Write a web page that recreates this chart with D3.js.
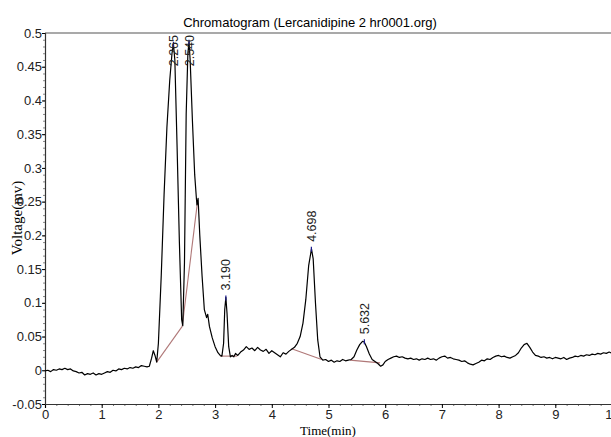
<!DOCTYPE html>
<html><head><meta charset="utf-8">
<script src="https://cdn.jsdelivr.net/npm/d3@7"></script>
<style>body{margin:0;background:#fff;}svg{display:block;}</style>
</head><body><svg id="c" width="611" height="437"></svg>
<script>
const titleText = "Chromatogram (Lercanidipine 2 hr0001.org)";
const xLabel = "Time(min)";
const yLabel = "Voltage(mv)";
const xTicks = [0,1,2,3,4,5,6,7,8,9,10];
const yTicks = [-0.05,0,0.05,0.1,0.15,0.2,0.25,0.3,0.35,0.4,0.45,0.5];

const time = [0.00,0.05,0.10,0.15,0.20,0.25,0.30,0.35,0.40,0.45,0.50,0.55,0.60,0.65,0.70,0.75,0.80,0.85,0.90,0.95,
1.00,1.05,1.10,1.15,1.20,1.25,1.30,1.35,1.40,1.45,1.50,1.55,1.60,1.65,1.70,1.75,1.80,1.84,1.88,1.91,1.94,1.97,
2.00,2.05,2.10,2.15,2.20,2.24,2.265,2.29,2.33,2.37,2.41,2.43,2.46,2.49,2.52,2.54,2.56,2.60,2.64,2.67,2.68,2.70,
2.73,2.77,2.81,2.85,2.87,2.90,2.95,3.00,3.05,3.09,3.12,3.15,3.17,3.19,3.21,3.24,3.27,3.30,3.33,3.36,3.40,3.45,
3.50,3.55,3.60,3.65,3.70,3.75,3.80,3.85,3.90,3.95,4.00,4.05,4.10,4.15,4.20,4.25,4.30,4.35,4.40,4.45,4.50,4.55,
4.60,4.65,4.70,4.73,4.77,4.81,4.85,4.90,4.95,5.00,5.05,5.10,5.15,5.20,5.25,5.30,5.35,5.40,5.45,5.50,5.55,5.60,
5.63,5.67,5.72,5.77,5.82,5.87,5.92,5.96,6.00,6.05,6.10,6.15,6.20,6.25,6.30,6.35,6.40,6.45,6.50,6.55,6.60,6.65,
6.70,6.75,6.80,6.85,6.90,6.95,7.00,7.05,7.10,7.15,7.20,7.25,7.30,7.35,7.40,7.45,7.50,7.55,7.60,7.65,7.70,7.75,
7.80,7.85,7.90,7.95,8.00,8.05,8.10,8.15,8.20,8.25,8.30,8.35,8.40,8.45,8.50,8.55,8.60,8.65,8.70,8.75,8.80,8.85,
8.90,8.95,9.00,9.05,9.10,9.15,9.20,9.25,9.30,9.35,9.40,9.45,9.50,9.55,9.60,9.65,9.70,9.75,9.80,9.85,9.90,9.95,10.00];
const voltage = [-0.001,0.000,-0.002,0.001,0.000,0.002,0.001,0.003,0.001,0.002,-0.001,-0.002,-0.004,-0.003,-0.007,-0.005,-0.006,-0.004,-0.007,-0.005,
-0.006,-0.004,-0.002,-0.003,0.000,-0.001,0.002,0.001,0.003,0.002,0.004,0.003,0.005,0.004,0.007,0.006,0.005,0.006,0.018,0.029,0.022,0.012,
0.040,0.140,0.260,0.360,0.430,0.470,0.484,0.460,0.330,0.190,0.075,0.066,0.160,0.380,0.470,0.487,0.460,0.370,0.290,0.255,0.245,0.255,
0.200,0.140,0.090,0.078,0.083,0.065,0.048,0.035,0.026,0.022,0.021,0.040,0.090,0.108,0.085,0.035,0.020,0.022,0.020,0.025,0.022,0.027,
0.030,0.035,0.031,0.033,0.029,0.034,0.030,0.028,0.031,0.025,0.029,0.026,0.023,0.020,0.026,0.024,0.028,0.031,0.034,0.040,0.050,0.070,
0.105,0.155,0.180,0.165,0.100,0.045,0.020,0.015,0.016,0.013,0.015,0.012,0.014,0.013,0.016,0.014,0.015,0.016,0.020,0.030,0.038,0.043,
0.042,0.035,0.024,0.016,0.013,0.010,0.006,0.008,0.013,0.016,0.018,0.020,0.021,0.019,0.020,0.018,0.017,0.018,0.016,0.017,0.015,0.017,
0.016,0.018,0.016,0.017,0.015,0.018,0.020,0.021,0.018,0.019,0.017,0.016,0.015,0.013,0.014,0.011,0.009,0.008,0.010,0.012,0.015,0.014,
0.017,0.016,0.019,0.021,0.022,0.020,0.021,0.019,0.018,0.020,0.022,0.026,0.033,0.038,0.040,0.034,0.027,0.022,0.021,0.019,0.020,0.018,
0.019,0.017,0.019,0.018,0.017,0.019,0.016,0.018,0.019,0.021,0.020,0.022,0.021,0.023,0.022,0.024,0.023,0.025,0.024,0.026,0.025,0.027,0.025];

const peakTimes = [2.265, 2.540, 3.190, 4.698, 5.632];
const peakHeights = [0.484, 0.487, 0.108, 0.180, 0.043];
const peakLabels = ["2.265", "2.540", "3.190", "4.698", "5.632"];

const baseStartT = [1.97, 2.42, 3.09, 4.35, 5.38];
const baseStartV = [0.012, 0.065, 0.021, 0.032, 0.015];
const baseEndT = [2.42, 2.69, 3.39, 4.88, 5.91];
const baseEndV = [0.065, 0.250, 0.021, 0.016, 0.011];

const svg = d3.select("#c");
const L = 45, R = 612, T = 33, B = 404;
const x = d3.scaleLinear().domain([0,10]).range([L,R]);
const y = d3.scaleLinear().domain([-0.05,0.5]).range([B,T]);

// title
svg.append("text").attr("x",310).attr("y",27).attr("text-anchor","middle")
  .attr("font-family","Liberation Sans, Arial, sans-serif").attr("font-size",13).text(titleText);

// top border
svg.append("line").attr("x1",L).attr("x2",R).attr("y1",T).attr("y2",T).attr("stroke","#555").attr("stroke-width",1.2);

// minor ticks
const gx = svg.append("g").attr("transform",`translate(0,${B})`);
gx.call(d3.axisBottom(x).tickValues(d3.range(0,10.01,0.2)).tickSize(2).tickFormat(""))
  .call(g=>g.select(".domain").remove()).selectAll("line").attr("stroke","#777");
const gxM = svg.append("g").attr("transform",`translate(0,${B})`);
gxM.call(d3.axisBottom(x).tickValues(xTicks).tickSize(4).tickPadding(2).tickFormat(d3.format("d")));
gxM.select(".domain").attr("stroke","#333").attr("stroke-width",1.2);
gxM.selectAll("text").attr("font-family","Liberation Sans, Arial, sans-serif").attr("font-size",13).attr("fill","#222");

const gy = svg.append("g").attr("transform",`translate(${L},0)`);
gy.call(d3.axisLeft(y).tickValues(d3.range(-0.05,0.5001,0.01)).tickSize(2).tickFormat(""))
  .call(g=>g.select(".domain").remove()).selectAll("line").attr("stroke","#888");
const gyM = svg.append("g").attr("transform",`translate(${L},0)`);
gyM.call(d3.axisLeft(y).tickValues(yTicks).tickSize(3).tickFormat(d=>String(+d.toFixed(2))));
gyM.select(".domain").attr("stroke","#333").attr("stroke-width",1.2);
gyM.selectAll("text").attr("font-family","Liberation Sans, Arial, sans-serif").attr("font-size",13).attr("fill","#222").attr("x",-3);

// axis titles
svg.append("text").attr("x",328).attr("y",435).attr("text-anchor","middle")
  .attr("font-family","Liberation Serif, Times New Roman, serif").attr("font-size",13).text(xLabel);
svg.append("text").attr("transform","translate(22,218) rotate(-90)").attr("text-anchor","middle")
  .attr("font-family","Liberation Serif, Times New Roman, serif").attr("font-size",15).text(yLabel);

// baselines
const clip = svg.append("clipPath").attr("id","pc").append("rect").attr("x",L).attr("y",T).attr("width",R-L).attr("height",B-T);
const plot = svg.append("g").attr("clip-path","url(#pc)");
plot.selectAll("line.base").data(baseStartT).join("line").attr("class","base")
  .attr("x1",(d,i)=>x(baseStartT[i])).attr("y1",(d,i)=>y(baseStartV[i]))
  .attr("x2",(d,i)=>x(baseEndT[i])).attr("y2",(d,i)=>y(baseEndV[i]))
  .attr("stroke","#b07878").attr("stroke-width",1.1);

// trace
const pts = time.map((t,i)=>[t,voltage[i]]);
plot.append("path").datum(pts).attr("fill","none").attr("stroke","#000").attr("stroke-width",1.2)
  .attr("stroke-linejoin","round")
  .attr("d",d3.line().x(d=>x(d[0])).y(d=>y(d[1])));

// peak markers and labels
peakTimes.forEach((t,i)=>{
  const px = x(t), py = y(peakHeights[i]);
  plot.append("line").attr("x1",px).attr("x2",px).attr("y1",py-2).attr("y2",py+3).attr("stroke","#1a1a8c").attr("stroke-width",1.2);
  const txt = plot.append("text").attr("font-family","Liberation Sans, Arial, sans-serif").attr("font-size",12.5)
    .attr("fill","#222").attr("dy","0.36em").text(peakLabels[i]);
  const len = txt.node().getComputedTextLength();
  let y0 = py - 7;
  if (y0 - len < T) y0 = T + len + 2;
  txt.attr("transform",`translate(${px},${y0}) rotate(-90)`);
});
</script></body></html>
